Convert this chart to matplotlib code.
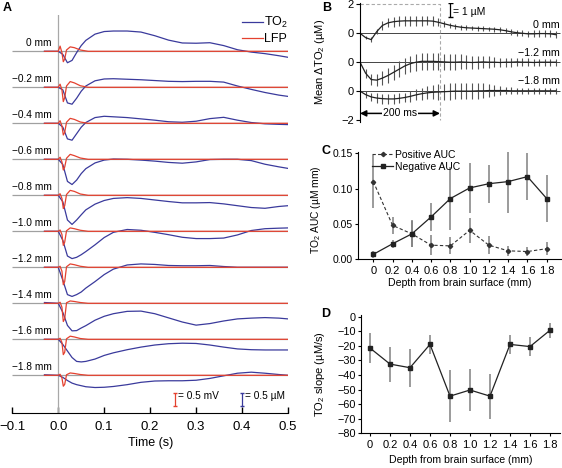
import numpy as np
import matplotlib
matplotlib.use("Agg")
import matplotlib.pyplot as plt
from matplotlib.lines import Line2D

plt.rcParams['font.family'] = ['Liberation Sans', 'DejaVu Sans']
plt.rcParams['mathtext.default'] = 'regular'

W, H = 562, 468

# ---- panel A: mean TO2 and LFP traces per depth (uM / mV above each baseline)
depth_labels = ['0 mm', '\u22120.2 mm', '\u22120.4 mm', '\u22120.6 mm', '\u22120.8 mm',
                '\u22121.0 mm', '\u22121.2 mm', '\u22121.4 mm', '\u22121.6 mm', '\u22121.8 mm']
t_to2 = [-0.03, 0.0, 0.01, 0.02, 0.03, 0.04, 0.05, 0.06, 0.08, 0.1, 0.12, 0.15,
         0.18, 0.21, 0.24, 0.27, 0.3, 0.33, 0.36, 0.39, 0.42, 0.45, 0.48, 0.5]
to2_00 = [0, 0, -0.12, -0.44, -0.35, -0.05, 0.22, 0.42, 0.66, 0.76, 0.78, 0.78,
          0.74, 0.6, 0.43, 0.32, 0.31, 0.33, 0.22, 0.06, -0.03, -0.09, -0.17, -0.23]
to2_02 = [0, 0, -0.1, -0.6, -0.65, -0.42, -0.15, 0.05, 0.25, 0.32, 0.33, 0.31,
          0.29, 0.26, 0.23, 0.22, 0.23, 0.23, 0.2, 0.05, -0.08, -0.2, -0.3, -0.35]
to2_04 = [0, 0, -0.15, -0.6, -0.65, -0.4, -0.15, 0.03, 0.22, 0.27, 0.25, 0.22,
          0.17, 0.12, 0.06, 0.04, 0.08, 0.18, 0.23, 0.12, 0.03, -0.02, -0.04, -0.05]
to2_06 = [0, 0, -0.2, -0.85, -0.97, -0.8, -0.55, -0.36, -0.14, -0.03, 0.01, 0.0,
          -0.03, -0.07, -0.12, -0.15, -0.1, -0.01, 0.0, 0.0, -0.05, -0.19, -0.29, -0.35]
to2_08 = [0, 0, -0.25, -0.95, -1.12, -0.95, -0.75, -0.56, -0.34, -0.2, -0.12, -0.09,
          -0.12, -0.18, -0.24, -0.29, -0.29, -0.28, -0.33, -0.4, -0.47, -0.5, -0.43, -0.4]
to2_10 = [0, 0, -0.35, -0.95, -1.05, -1.0, -0.9, -0.78, -0.52, -0.24, -0.04, 0.07,
          0.04, -0.04, -0.13, -0.23, -0.28, -0.28, -0.26, -0.14, 0.03, 0.1, 0.12, 0.13]
to2_12 = [0, 0, -0.5, -1.05, -1.12, -1.05, -0.95, -0.8, -0.55, -0.28, -0.07, 0.09,
          0.13, 0.11, 0.07, 0.06, 0.06, 0.07, 0.03, 0.0, 0.0, 0.0, 0.0, 0.0]
to2_14 = [0.03, 0, -0.35, -0.85, -1.06, -1.05, -0.95, -0.86, -0.65, -0.5, -0.4, -0.31,
          -0.3, -0.4, -0.56, -0.72, -0.84, -0.78, -0.68, -0.6, -0.57, -0.55, -0.57, -0.6]
to2_16 = [0, 0, -0.2, -0.45, -0.7, -0.85, -0.87, -0.85, -0.76, -0.62, -0.52, -0.4,
          -0.3, -0.22, -0.17, -0.15, -0.16, -0.22, -0.3, -0.37, -0.4, -0.41, -0.41, -0.41]
to2_18 = [0.02, 0, -0.08, -0.2, -0.3, -0.36, -0.4, -0.44, -0.47, -0.46, -0.43, -0.36,
          -0.27, -0.22, -0.21, -0.21, -0.19, -0.12, -0.02, 0.08, 0.12, 0.08, 0.03, 0.0]
to2_traces = [to2_00, to2_02, to2_04, to2_06, to2_08, to2_10, to2_12, to2_14, to2_16, to2_18]

t_lfp = [-0.03, 0.0, 0.004, 0.008, 0.011, 0.014, 0.018, 0.026, 0.035, 0.048, 0.065, 0.5]
lfp_00 = [0, 0, 0.2, -0.05, -0.4, -0.3, 0.05, 0.17, 0.14, 0.05, 0, 0]
lfp_02 = [0, 0, 0.12, -0.1, -0.55, -0.4, 0.05, 0.22, 0.17, 0.06, 0, 0]
lfp_04 = [0, 0, 0.1, -0.1, -0.45, -0.35, 0.04, 0.19, 0.15, 0.05, 0, 0]
lfp_06 = [0, 0, 0.08, -0.1, -0.41, -0.3, 0.04, 0.19, 0.14, 0.05, 0, 0]
lfp_08 = [0, 0, 0.06, -0.12, -0.51, -0.4, 0.03, 0.19, 0.15, 0.05, 0, 0]
lfp_10 = [0, 0, 0.05, -0.12, -0.54, -0.42, 0.02, 0.13, 0.1, 0.04, 0, 0]
lfp_12 = [0, 0, 0.04, -0.15, -0.67, -0.55, 0.02, 0.13, 0.1, 0.04, 0, 0]
lfp_14 = [0, 0, 0.04, -0.15, -0.7, -0.6, 0.02, 0.09, 0.07, 0.03, 0, 0]
lfp_16 = [0, 0, 0.04, -0.12, -0.59, -0.5, 0.02, 0.12, 0.09, 0.03, 0, 0]
lfp_18 = [0, 0, 0.04, -0.1, -0.42, -0.35, 0.02, 0.09, 0.07, 0.03, 0, 0]
lfp_traces = [lfp_00, lfp_02, lfp_04, lfp_06, lfp_08, lfp_10, lfp_12, lfp_14, lfp_16, lfp_18]

# ---- panel B: mean dTO2 with error bars
t_b_ms = [0, 14, 28, 42, 56, 70, 84, 98, 112, 126, 140, 154, 168, 182, 196, 210, 224, 238,
          252, 266, 280, 294, 308, 322, 336, 350, 364, 378, 392, 406, 420, 434, 448, 462, 476, 490]
b_labels = ['0 mm', '\u22121.2 mm', '\u22121.8 mm']
mean_00 = [0, -0.15, -0.22, 0.06, 0.27, 0.36, 0.40, 0.42, 0.43, 0.43, 0.43, 0.43, 0.43, 0.42,
           0.38, 0.33, 0.28, 0.24, 0.21, 0.19, 0.18, 0.17, 0.16, 0.15, 0.14, 0.12, 0.09, 0.05,
           0.02, 0.0, -0.02, -0.02, -0.01, -0.01, -0.02, -0.05]
err_00 = [0.03, 0.06, 0.08, 0.1, 0.14, 0.16, 0.17, 0.17, 0.17, 0.17, 0.17, 0.17, 0.16, 0.16,
          0.14, 0.1, 0.09, 0.08, 0.08, 0.08, 0.08, 0.08, 0.08, 0.08, 0.08, 0.09, 0.09, 0.1,
          0.1, 0.1, 0.11, 0.12, 0.12, 0.12, 0.12, 0.12]
mean_12 = [0, -0.38, -0.6, -0.62, -0.55, -0.46, -0.35, -0.24, -0.13, -0.05, 0.0, 0.03, 0.03,
           0.03, 0.02, 0.01, 0.0, 0.0, 0.01, 0.0, -0.01, 0.0, 0.01, 0.0, 0.0, -0.01, 0.0, 0.0,
           0.01, 0.0, 0.0, -0.01, 0.0, 0.0, 0.0, 0.0]
err_12 = [0.05, 0.15, 0.2, 0.22, 0.24, 0.25, 0.26, 0.27, 0.28, 0.28, 0.29, 0.29, 0.29, 0.29,
          0.29, 0.28, 0.28, 0.27, 0.26, 0.25, 0.24, 0.23, 0.22, 0.2, 0.18, 0.17, 0.16, 0.15,
          0.14, 0.14, 0.13, 0.13, 0.12, 0.12, 0.12, 0.12]
mean_18 = [0, -0.12, -0.2, -0.24, -0.26, -0.27, -0.27, -0.25, -0.22, -0.18, -0.13, -0.09,
           -0.06, -0.04, -0.03, -0.02, -0.01, 0, 0, 0, 0, 0.01, 0.01, 0.02, 0.02, 0.02, 0.02,
           0.01, 0.01, 0.01, 0.01, 0.01, 0.01, 0.01, 0.01, 0.01]
err_18 = [0.04, 0.12, 0.15, 0.16, 0.17, 0.17, 0.17, 0.17, 0.17, 0.18, 0.19, 0.2, 0.22, 0.24,
          0.26, 0.27, 0.28, 0.28, 0.28, 0.28, 0.28, 0.27, 0.26, 0.24, 0.2, 0.16, 0.13, 0.12,
          0.11, 0.1, 0.1, 0.1, 0.1, 0.1, 0.1, 0.1]

# ---- panels C and D
depth = [0, 0.2, 0.4, 0.6, 0.8, 1.0, 1.2, 1.4, 1.6, 1.8]
depth_ticklabels = ['0', '0.2', '0.4', '0.6', '0.8', '1.0', '1.2', '1.4', '1.6', '1.8']
pos_auc = [0.110, 0.048, 0.036, 0.020, 0.019, 0.041, 0.020, 0.012, 0.011, 0.015]
pos_err = [0.037, 0.012, 0.018, 0.014, 0.012, 0.018, 0.013, 0.007, 0.0065, 0.009]
neg_auc = [0.007, 0.022, 0.036, 0.060, 0.086, 0.101, 0.107, 0.110, 0.117, 0.086]
neg_err = [0.005, 0.006, 0.019, 0.020, 0.045, 0.035, 0.027, 0.045, 0.033, 0.033]
slope = [-21.5, -32.5, -35, -19, -54.5, -50.3, -54.5, -19, -20.5, -9.3]
slope_err = [10, 12, 13, 6.5, 18, 14.5, 15.5, 6.5, 6.5, 5]

BLUE = '#3a3a9c'
RED = '#e4412f'


def rect(l, t, r, b):
    return [l / W, 1 - b / H, (r - l) / W, (b - t) / H]


fig = plt.figure(figsize=(W / 100, H / 100), dpi=100)

# ================= A
step = 36 / 26
base0 = 0.0
axA = fig.add_axes(rect(12.3, 15, 288, 412.7))
axA.set_xlim(-0.1, 0.5)
axA.set_ylim(-361.4 / 26, 36.3 / 26)
axA.axvline(0, color='#a8a8a8', lw=0.9)
for k, (lab, to2, lfp) in enumerate(zip(depth_labels, to2_traces, lfp_traces)):
    base = base0 - k * step
    axA.hlines(base, -0.1, 0.5, color='#a0a0a0', lw=0.9)
    axA.plot(t_to2, np.array(to2) + base, color=BLUE, lw=0.9)
    axA.plot(t_lfp, np.array(lfp) + base, color=RED, lw=0.9)
    axA.text(-0.0137, base + 0.31, lab, ha='right', va='center', fontsize=7.3)
for s in ['top', 'right', 'left']:
    axA.spines[s].set_visible(False)
axA.set_yticks([])
axA.set_xticks([-0.1, 0.0, 0.1, 0.2, 0.3, 0.4, 0.5])
axA.set_xticklabels(['\u22120.1', '0.0', '0.1', '0.2', '0.3', '0.4', '0.5'])
axA.tick_params(axis='x', direction='in', length=4, width=1, pad=6, labelsize=9.5)
axA.set_xlabel('Time (s)', fontsize=9, labelpad=3)
sb_y = -(399.5 - 51.3) / 26
axA.errorbar([0.254], [sb_y], yerr=[0.25], fmt='none', ecolor=RED, elinewidth=0.9, capsize=1.5)
axA.errorbar([0.399], [sb_y], yerr=[0.25], fmt='none', ecolor=BLUE, elinewidth=0.9, capsize=1.5)
axA.text(0.2605, sb_y + 0.15, '= 0.5 mV', fontsize=7.3, va='center')
axA.text(0.4055, sb_y + 0.15, '= 0.5 \u00b5M', fontsize=7.3, va='center')
axA.legend(handles=[Line2D([], [], color=BLUE, lw=0.9), Line2D([], [], color=RED, lw=0.9)],
           labels=['TO$_2$', 'LFP'], loc='upper right', bbox_to_anchor=(1.0, 1.0),
           frameon=False, fontsize=9, handlelength=1.7, handletextpad=0.1,
           labelspacing=0.25, borderaxespad=0, borderpad=0)

# ================= B
axB = fig.add_axes(rect(360, 2.9, 562, 121.5))
axB.set_xlim(0, 0.505)
axB.set_ylim(-2.05, 2.05)
t_b = np.array(t_b_ms) / 1000
for off, m, e in zip([1, 0, -1], [mean_00, mean_12, mean_18], [err_00, err_12, err_18]):
    axB.hlines(off, 0, 0.5, color='#444444', lw=0.7)
    axB.errorbar(t_b, np.array(m) + off, yerr=e, fmt='-', color='#222222',
                 ecolor='#555555', elinewidth=0.8, lw=0.9, capsize=0)
for off, lab in zip([1.29, 0.32, -0.66], b_labels):
    axB.text(0.5, off, lab, ha='right', va='center', fontsize=7.7)
axB.plot([0, 0.2, 0.2], [2.02, 2.02, -2.0], color='#aaaaaa', lw=0.8, ls=(0, (3, 2)))
axB.annotate('', xy=(0.0, -1.77), xytext=(0.2, -1.77),
             arrowprops=dict(arrowstyle='<|-|>', color='black', lw=1.1, mutation_scale=9,
                             shrinkA=0, shrinkB=0))
axB.text(0.1, -1.77, '200 ms', ha='center', va='center', fontsize=7.5,
         bbox=dict(facecolor='white', edgecolor='none', pad=0.5))
axB.errorbar([0.225], [1.8], yerr=[0.23], fmt='none', ecolor='black', elinewidth=0.9, capsize=1.8)
axB.text(0.233, 1.75, '= 1 \u00b5M', fontsize=7.5, va='center')
for s in ['top', 'right', 'bottom']:
    axB.spines[s].set_visible(False)
axB.set_xticks([])
axB.set_yticks([2, 1, 0, -1, -2])
axB.set_yticklabels(['2', '0', '0', '0', '\u22122'])
axB.tick_params(axis='y', direction='out', length=3, labelsize=8, pad=1.5)
axB.set_ylabel('Mean \u0394TO$_2$ (\u00b5M)', fontsize=8)
axB.yaxis.set_label_coords(-0.165, 0.5)

# ================= C
axC = fig.add_axes(rect(358, 151.7, 562, 259.3))
axC.set_xlim(-0.159, 1.959)
axC.set_ylim(0, 0.1523)
axC.errorbar(depth, pos_auc, yerr=pos_err, fmt='none', ecolor='#808080', elinewidth=1.1, capsize=0)
axC.errorbar(depth, neg_auc, yerr=neg_err, fmt='none', ecolor='#808080', elinewidth=1.1, capsize=0)
axC.plot(depth, pos_auc, ls=(0, (3, 2)), color='#333333', lw=0.8, marker='D', ms=2.2,
         label='Positive AUC')
axC.plot(depth, neg_auc, ls='-', color='#222222', lw=0.9, marker='s', ms=2.6,
         label='Negative AUC')
axC.legend(loc='upper left', bbox_to_anchor=(0.07, 1.02), frameon=False, fontsize=7.5,
           handlelength=2.0, handletextpad=0.2, labelspacing=0.2, borderaxespad=0, borderpad=0)
for s in ['top', 'right']:
    axC.spines[s].set_visible(False)
axC.set_yticks([0, 0.05, 0.10, 0.15])
axC.set_yticklabels(['0.00', '0.05', '0.10', '0.15'])
axC.set_xticks(depth)
axC.set_xticklabels(depth_ticklabels)
axC.tick_params(direction='out', length=2.5, labelsize=8, pad=2)
axC.tick_params(axis='y', labelsize=7.5, pad=1)
axC.set_xlabel('Depth from brain surface (mm)', fontsize=7.6, labelpad=2)
axC.set_ylabel('TO$_2$ AUC (\u00b5M mm)', fontsize=7.4)
axC.yaxis.set_label_coords(-0.17, 0.46)

# ================= D
axD = fig.add_axes(rect(360.7, 315, 560, 433.3))
axD.set_xlim(-0.093, 1.9)
axD.set_ylim(-80, 1.17)
axD.errorbar(depth, slope, yerr=slope_err, fmt='none', ecolor='#808080', elinewidth=1.1, capsize=0)
axD.plot(depth, slope, color='#222222', lw=0.9, marker='s', ms=2.6)
for s in ['top', 'right']:
    axD.spines[s].set_visible(False)
axD.set_yticks(np.arange(-80, 1, 10))
axD.set_yticklabels([str(v).replace('-', '\u2212') for v in range(-80, 1, 10)])
axD.set_xticks(depth)
axD.set_xticklabels(depth_ticklabels)
axD.tick_params(direction='out', length=2.5, labelsize=8, pad=2)
axD.tick_params(axis='y', labelsize=7.8, pad=1)
axD.set_xlabel('Depth from brain surface (mm)', fontsize=7.6, labelpad=4)
axD.set_ylabel('TO$_2$ slope (\u00b5M/s)', fontsize=8)
axD.yaxis.set_label_coords(-0.17, 0.5)

# panel letters
for lab, x, y in [('A', 3, 2), ('B', 322, 2), ('C', 321, 145), ('D', 321, 308)]:
    fig.text(x / W, 1 - y / H, lab, fontsize=9, fontweight='bold', ha='left', va='top')

fig.savefig('out.png', dpi=100)
